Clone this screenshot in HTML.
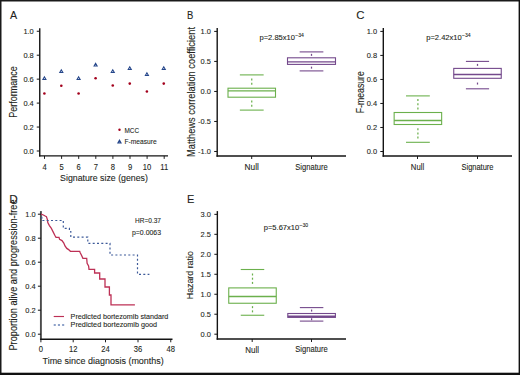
<!DOCTYPE html>
<html><head><meta charset="utf-8"><style>
html,body{margin:0;padding:0;background:#fff;}
svg{display:block;font-family:"Liberation Sans", sans-serif;}
</style></head><body>
<svg width="520" height="375" viewBox="0 0 520 375">
<rect x="0" y="0" width="520" height="375" fill="#fff"/>
<text x="10.0" y="19" font-size="11" text-anchor="start" textLength="7.15" lengthAdjust="spacingAndGlyphs" fill="#231f20" stroke="#231f20" stroke-width="0.1" >A</text>
<line x1="39.75" y1="28.3" x2="39.75" y2="156.6" stroke="#141414" stroke-width="1.4" />
<line x1="39.05" y1="155.9" x2="168" y2="155.9" stroke="#141414" stroke-width="1.4" />
<line x1="36.75" y1="31.25" x2="39.75" y2="31.25" stroke="#141414" stroke-width="1.0" />
<text x="33.75" y="34.0" font-size="8.0" text-anchor="end" textLength="10.34" lengthAdjust="spacingAndGlyphs" fill="#231f20" stroke="#231f20" stroke-width="0.1" >1.0</text>
<line x1="36.75" y1="55.2" x2="39.75" y2="55.2" stroke="#141414" stroke-width="1.0" />
<text x="33.75" y="57.95" font-size="8.0" text-anchor="end" textLength="10.34" lengthAdjust="spacingAndGlyphs" fill="#231f20" stroke="#231f20" stroke-width="0.1" >0.8</text>
<line x1="36.75" y1="79.15" x2="39.75" y2="79.15" stroke="#141414" stroke-width="1.0" />
<text x="33.75" y="81.9" font-size="8.0" text-anchor="end" textLength="10.34" lengthAdjust="spacingAndGlyphs" fill="#231f20" stroke="#231f20" stroke-width="0.1" >0.6</text>
<line x1="36.75" y1="103.1" x2="39.75" y2="103.1" stroke="#141414" stroke-width="1.0" />
<text x="33.75" y="105.85" font-size="8.0" text-anchor="end" textLength="10.34" lengthAdjust="spacingAndGlyphs" fill="#231f20" stroke="#231f20" stroke-width="0.1" >0.4</text>
<line x1="36.75" y1="127.05" x2="39.75" y2="127.05" stroke="#141414" stroke-width="1.0" />
<text x="33.75" y="129.8" font-size="8.0" text-anchor="end" textLength="10.34" lengthAdjust="spacingAndGlyphs" fill="#231f20" stroke="#231f20" stroke-width="0.1" >0.2</text>
<line x1="36.75" y1="151.0" x2="39.75" y2="151.0" stroke="#141414" stroke-width="1.0" />
<text x="33.75" y="153.75" font-size="8.0" text-anchor="end" textLength="10.34" lengthAdjust="spacingAndGlyphs" fill="#231f20" stroke="#231f20" stroke-width="0.1" >0.0</text>
<line x1="44.5" y1="155.9" x2="44.5" y2="158.9" stroke="#141414" stroke-width="0.95" />
<text x="44.5" y="169.7" font-size="8.2" text-anchor="middle" textLength="4.24" lengthAdjust="spacingAndGlyphs" fill="#231f20" stroke="#231f20" stroke-width="0.1" >4</text>
<line x1="61.6" y1="155.9" x2="61.6" y2="158.9" stroke="#141414" stroke-width="0.95" />
<text x="61.6" y="169.7" font-size="8.2" text-anchor="middle" textLength="4.24" lengthAdjust="spacingAndGlyphs" fill="#231f20" stroke="#231f20" stroke-width="0.1" >5</text>
<line x1="78.7" y1="155.9" x2="78.7" y2="158.9" stroke="#141414" stroke-width="0.95" />
<text x="78.7" y="169.7" font-size="8.2" text-anchor="middle" textLength="4.24" lengthAdjust="spacingAndGlyphs" fill="#231f20" stroke="#231f20" stroke-width="0.1" >6</text>
<line x1="95.8" y1="155.9" x2="95.8" y2="158.9" stroke="#141414" stroke-width="0.95" />
<text x="95.8" y="169.7" font-size="8.2" text-anchor="middle" textLength="4.24" lengthAdjust="spacingAndGlyphs" fill="#231f20" stroke="#231f20" stroke-width="0.1" >7</text>
<line x1="112.9" y1="155.9" x2="112.9" y2="158.9" stroke="#141414" stroke-width="0.95" />
<text x="112.9" y="169.7" font-size="8.2" text-anchor="middle" textLength="4.24" lengthAdjust="spacingAndGlyphs" fill="#231f20" stroke="#231f20" stroke-width="0.1" >8</text>
<line x1="130.0" y1="155.9" x2="130.0" y2="158.9" stroke="#141414" stroke-width="0.95" />
<text x="130.0" y="169.7" font-size="8.2" text-anchor="middle" textLength="4.24" lengthAdjust="spacingAndGlyphs" fill="#231f20" stroke="#231f20" stroke-width="0.1" >9</text>
<line x1="147.1" y1="155.9" x2="147.1" y2="158.9" stroke="#141414" stroke-width="0.95" />
<text x="147.1" y="169.7" font-size="8.2" text-anchor="middle" textLength="8.48" lengthAdjust="spacingAndGlyphs" fill="#231f20" stroke="#231f20" stroke-width="0.1" >10</text>
<line x1="164.2" y1="155.9" x2="164.2" y2="158.9" stroke="#141414" stroke-width="0.95" />
<text x="164.2" y="169.7" font-size="8.2" text-anchor="middle" textLength="7.92" lengthAdjust="spacingAndGlyphs" fill="#231f20" stroke="#231f20" stroke-width="0.1" >11</text>
<text x="60.1" y="180.9" font-size="9.3" text-anchor="start" textLength="87.8" lengthAdjust="spacingAndGlyphs" fill="#231f20" stroke="#231f20" stroke-width="0.1" >Signature size (genes)</text>
<text x="0" y="0" font-size="10" text-anchor="middle" textLength="51.5" lengthAdjust="spacingAndGlyphs" fill="#231f20" stroke="#231f20" stroke-width="0.1" transform="translate(17.2,92.1) rotate(-90)">Performance</text>
<path d="M42.85,79.55 L44.4,76.85 L45.95,79.55 Z" fill="#dfe6f2" stroke="#25468a" stroke-width="1.05"/>
<path d="M59.75,72.55 L61.3,69.85 L62.85,72.55 Z" fill="#dfe6f2" stroke="#25468a" stroke-width="1.05"/>
<path d="M77.05,79.55 L78.6,76.85 L80.15,79.55 Z" fill="#dfe6f2" stroke="#25468a" stroke-width="1.05"/>
<path d="M94.05,66.05 L95.6,63.35 L97.15,66.05 Z" fill="#dfe6f2" stroke="#25468a" stroke-width="1.05"/>
<path d="M111.2,72.45 L112.75,69.75 L114.3,72.45 Z" fill="#dfe6f2" stroke="#25468a" stroke-width="1.05"/>
<path d="M128.2,69.55 L129.75,66.85 L131.3,69.55 Z" fill="#dfe6f2" stroke="#25468a" stroke-width="1.05"/>
<path d="M145.35,75.55 L146.9,72.85 L148.45,75.55 Z" fill="#dfe6f2" stroke="#25468a" stroke-width="1.05"/>
<path d="M162.2,69.55 L163.75,66.85 L165.3,69.55 Z" fill="#dfe6f2" stroke="#25468a" stroke-width="1.05"/>
<circle cx="44.4" cy="93.5" r="1.3" fill="#a3001c"/>
<circle cx="61.3" cy="85.7" r="1.3" fill="#a3001c"/>
<circle cx="78.6" cy="93.5" r="1.3" fill="#a3001c"/>
<circle cx="95.6" cy="78.2" r="1.3" fill="#a3001c"/>
<circle cx="112.75" cy="85.5" r="1.3" fill="#a3001c"/>
<circle cx="129.75" cy="83.6" r="1.3" fill="#a3001c"/>
<circle cx="146.9" cy="91.5" r="1.3" fill="#a3001c"/>
<circle cx="163.75" cy="83.6" r="1.3" fill="#a3001c"/>
<circle cx="119.5" cy="129.7" r="1.2" fill="#a3001c"/>
<text x="124.5" y="133.1" font-size="7.6" text-anchor="start" textLength="14.6" lengthAdjust="spacingAndGlyphs" fill="#231f20" stroke="#231f20" stroke-width="0.1" >MCC</text>
<path d="M117.95,142.85 L119.5,140.15 L121.05,142.85 Z" fill="#dfe6f2" stroke="#25468a" stroke-width="1.05"/>
<text x="124.5" y="144.1" font-size="7.6" text-anchor="start" textLength="32.2" lengthAdjust="spacingAndGlyphs" fill="#231f20" stroke="#231f20" stroke-width="0.1" >F-measure</text>
<text x="186.9" y="19" font-size="11" text-anchor="start" textLength="6.31" lengthAdjust="spacingAndGlyphs" fill="#231f20" stroke="#231f20" stroke-width="0.1" >B</text>
<line x1="217.2" y1="28.1" x2="217.2" y2="156.7" stroke="#141414" stroke-width="1.4" />
<line x1="216.5" y1="156" x2="346" y2="156" stroke="#141414" stroke-width="1.4" />
<line x1="214.2" y1="31.4" x2="217.2" y2="31.4" stroke="#141414" stroke-width="1.0" />
<text x="210.9" y="34.15" font-size="8.0" text-anchor="end" textLength="10.34" lengthAdjust="spacingAndGlyphs" fill="#231f20" stroke="#231f20" stroke-width="0.1" >1.0</text>
<line x1="214.2" y1="61.42" x2="217.2" y2="61.42" stroke="#141414" stroke-width="1.0" />
<text x="210.9" y="64.17" font-size="8.0" text-anchor="end" textLength="10.34" lengthAdjust="spacingAndGlyphs" fill="#231f20" stroke="#231f20" stroke-width="0.1" >0.5</text>
<line x1="214.2" y1="91.44" x2="217.2" y2="91.44" stroke="#141414" stroke-width="1.0" />
<text x="210.9" y="94.19" font-size="8.0" text-anchor="end" textLength="10.34" lengthAdjust="spacingAndGlyphs" fill="#231f20" stroke="#231f20" stroke-width="0.1" >0.0</text>
<line x1="214.2" y1="121.46" x2="217.2" y2="121.46" stroke="#141414" stroke-width="1.0" />
<text x="210.9" y="124.21" font-size="8.0" text-anchor="end" textLength="12.82" lengthAdjust="spacingAndGlyphs" fill="#231f20" stroke="#231f20" stroke-width="0.1" >-0.5</text>
<line x1="214.2" y1="151.48" x2="217.2" y2="151.48" stroke="#141414" stroke-width="1.0" />
<text x="210.9" y="154.23" font-size="8.0" text-anchor="end" textLength="12.82" lengthAdjust="spacingAndGlyphs" fill="#231f20" stroke="#231f20" stroke-width="0.1" >-1.0</text>
<line x1="251.7" y1="156" x2="251.7" y2="159.0" stroke="#141414" stroke-width="0.95" />
<text x="251.7" y="169.9" font-size="8.3" text-anchor="middle" textLength="14.3" lengthAdjust="spacingAndGlyphs" fill="#231f20" stroke="#231f20" stroke-width="0.1" >Null</text>
<line x1="311.5" y1="156" x2="311.5" y2="159.0" stroke="#141414" stroke-width="0.95" />
<text x="311.5" y="169.5" font-size="8.3" text-anchor="middle" textLength="32.4" lengthAdjust="spacingAndGlyphs" fill="#231f20" stroke="#231f20" stroke-width="0.1" >Signature</text>
<text x="0" y="0" font-size="10.3" text-anchor="middle" textLength="130" lengthAdjust="spacingAndGlyphs" fill="#231f20" stroke="#231f20" stroke-width="0.1" transform="translate(195.3,92.0) rotate(-90)">Matthews correlation coefficient</text>
<text x="259.5" y="40" font-size="7.5" text-anchor="start" textLength="35.5" lengthAdjust="spacingAndGlyphs" fill="#231f20" stroke="#231f20" stroke-width="0.1" >p=2.85x10</text>
<text x="295.3" y="37.1" font-size="5" text-anchor="start" textLength="8.6" lengthAdjust="spacingAndGlyphs" fill="#231f20" stroke="#231f20" stroke-width="0.1" >&#8722;34</text>
<line x1="251.75" y1="78.45" x2="251.75" y2="80.45" stroke="#6bb04c" stroke-width="1.25" />
<line x1="251.75" y1="82.65" x2="251.75" y2="84.65" stroke="#6bb04c" stroke-width="1.25" />
<line x1="251.75" y1="100.55" x2="251.75" y2="102.55" stroke="#6bb04c" stroke-width="1.25" />
<line x1="251.75" y1="104.75" x2="251.75" y2="106.75" stroke="#6bb04c" stroke-width="1.25" />
<line x1="239.85" y1="74.9" x2="263.65" y2="74.9" stroke="#6bb04c" stroke-width="1.1" />
<line x1="239.85" y1="110.1" x2="263.65" y2="110.1" stroke="#6bb04c" stroke-width="1.1" />
<rect x="228.0" y="88.2" width="47.5" height="9.0" fill="none" stroke="#6bb04c" stroke-width="1.1"/>
<line x1="228.0" y1="90.9" x2="275.5" y2="90.9" stroke="#6bb04c" stroke-width="1.4" />
<line x1="311.5" y1="53.85" x2="311.5" y2="55.85" stroke="#74498c" stroke-width="1.25" />
<line x1="311.5" y1="66.65" x2="311.5" y2="68.65" stroke="#74498c" stroke-width="1.25" />
<line x1="299.65" y1="51.9" x2="323.35" y2="51.9" stroke="#74498c" stroke-width="1.1" />
<line x1="299.65" y1="70.9" x2="323.35" y2="70.9" stroke="#74498c" stroke-width="1.1" />
<rect x="287.5" y="57.8" width="48" height="6.6" fill="none" stroke="#74498c" stroke-width="1.1"/>
<line x1="287.5" y1="61.9" x2="335.5" y2="61.9" stroke="#74498c" stroke-width="1.4" />
<text x="356.36" y="19" font-size="11" text-anchor="start" textLength="8.23" lengthAdjust="spacingAndGlyphs" fill="#231f20" stroke="#231f20" stroke-width="0.1" >C</text>
<line x1="383.3" y1="28.1" x2="383.3" y2="156.7" stroke="#141414" stroke-width="1.4" />
<line x1="382.6" y1="156" x2="512" y2="156" stroke="#141414" stroke-width="1.4" />
<line x1="380.3" y1="31.4" x2="383.3" y2="31.4" stroke="#141414" stroke-width="1.0" />
<text x="377.05" y="34.15" font-size="8.0" text-anchor="end" textLength="10.34" lengthAdjust="spacingAndGlyphs" fill="#231f20" stroke="#231f20" stroke-width="0.1" >1.0</text>
<line x1="380.3" y1="55.42" x2="383.3" y2="55.42" stroke="#141414" stroke-width="1.0" />
<text x="377.05" y="58.17" font-size="8.0" text-anchor="end" textLength="10.34" lengthAdjust="spacingAndGlyphs" fill="#231f20" stroke="#231f20" stroke-width="0.1" >0.8</text>
<line x1="380.3" y1="79.44" x2="383.3" y2="79.44" stroke="#141414" stroke-width="1.0" />
<text x="377.05" y="82.19" font-size="8.0" text-anchor="end" textLength="10.34" lengthAdjust="spacingAndGlyphs" fill="#231f20" stroke="#231f20" stroke-width="0.1" >0.6</text>
<line x1="380.3" y1="103.46" x2="383.3" y2="103.46" stroke="#141414" stroke-width="1.0" />
<text x="377.05" y="106.21" font-size="8.0" text-anchor="end" textLength="10.34" lengthAdjust="spacingAndGlyphs" fill="#231f20" stroke="#231f20" stroke-width="0.1" >0.4</text>
<line x1="380.3" y1="127.48" x2="383.3" y2="127.48" stroke="#141414" stroke-width="1.0" />
<text x="377.05" y="130.23" font-size="8.0" text-anchor="end" textLength="10.34" lengthAdjust="spacingAndGlyphs" fill="#231f20" stroke="#231f20" stroke-width="0.1" >0.2</text>
<line x1="380.3" y1="151.5" x2="383.3" y2="151.5" stroke="#141414" stroke-width="1.0" />
<text x="377.05" y="154.25" font-size="8.0" text-anchor="end" textLength="10.34" lengthAdjust="spacingAndGlyphs" fill="#231f20" stroke="#231f20" stroke-width="0.1" >0.0</text>
<line x1="417.5" y1="156" x2="417.5" y2="159.0" stroke="#141414" stroke-width="0.95" />
<text x="417.5" y="169.9" font-size="8.3" text-anchor="middle" textLength="13.3" lengthAdjust="spacingAndGlyphs" fill="#231f20" stroke="#231f20" stroke-width="0.1" >Null</text>
<line x1="477.5" y1="156" x2="477.5" y2="159.0" stroke="#141414" stroke-width="0.95" />
<text x="477.5" y="169.5" font-size="8.3" text-anchor="middle" textLength="32" lengthAdjust="spacingAndGlyphs" fill="#231f20" stroke="#231f20" stroke-width="0.1" >Signature</text>
<text x="0" y="0" font-size="10" text-anchor="middle" textLength="42" lengthAdjust="spacingAndGlyphs" fill="#231f20" stroke="#231f20" stroke-width="0.1" transform="translate(363.6,92.15) rotate(-90)">F-measure</text>
<text x="426.25" y="40" font-size="7.5" text-anchor="start" textLength="35.5" lengthAdjust="spacingAndGlyphs" fill="#231f20" stroke="#231f20" stroke-width="0.1" >p=2.42x10</text>
<text x="462.0" y="37.1" font-size="5" text-anchor="start" textLength="8.6" lengthAdjust="spacingAndGlyphs" fill="#231f20" stroke="#231f20" stroke-width="0.1" >&#8722;34</text>
<line x1="417.9" y1="99.0" x2="417.9" y2="101.0" stroke="#6bb04c" stroke-width="1.25" />
<line x1="417.9" y1="103.2" x2="417.9" y2="105.2" stroke="#6bb04c" stroke-width="1.25" />
<line x1="417.9" y1="107.4" x2="417.9" y2="109.4" stroke="#6bb04c" stroke-width="1.25" />
<line x1="417.9" y1="128.2" x2="417.9" y2="130.2" stroke="#6bb04c" stroke-width="1.25" />
<line x1="417.9" y1="132.4" x2="417.9" y2="134.4" stroke="#6bb04c" stroke-width="1.25" />
<line x1="417.9" y1="136.6" x2="417.9" y2="138.6" stroke="#6bb04c" stroke-width="1.25" />
<line x1="406.0" y1="95.9" x2="429.8" y2="95.9" stroke="#6bb04c" stroke-width="1.1" />
<line x1="406.0" y1="142.3" x2="429.8" y2="142.3" stroke="#6bb04c" stroke-width="1.1" />
<rect x="394.15" y="112.5" width="47.5" height="12.0" fill="none" stroke="#6bb04c" stroke-width="1.1"/>
<line x1="394.15" y1="120.5" x2="441.65" y2="120.5" stroke="#6bb04c" stroke-width="1.4" />
<line x1="477.5" y1="63.9" x2="477.5" y2="65.9" stroke="#74498c" stroke-width="1.25" />
<line x1="477.5" y1="82.55" x2="477.5" y2="84.55" stroke="#74498c" stroke-width="1.25" />
<line x1="465.9" y1="61.4" x2="489.1" y2="61.4" stroke="#74498c" stroke-width="1.1" />
<line x1="465.9" y1="88.8" x2="489.1" y2="88.8" stroke="#74498c" stroke-width="1.1" />
<rect x="453.75" y="68.4" width="47.5" height="9.9" fill="none" stroke="#74498c" stroke-width="1.1"/>
<line x1="453.75" y1="74.5" x2="501.25" y2="74.5" stroke="#74498c" stroke-width="1.4" />
<line x1="40.9" y1="211.1" x2="40.9" y2="340.0" stroke="#4a4a4a" stroke-width="1.9" />
<line x1="40.2" y1="339.3" x2="172.5" y2="339.3" stroke="#141414" stroke-width="1.4" />
<line x1="37.9" y1="214.2" x2="40.9" y2="214.2" stroke="#141414" stroke-width="1.0" />
<text x="35.7" y="216.95" font-size="8.0" text-anchor="end" textLength="10.34" lengthAdjust="spacingAndGlyphs" fill="#231f20" stroke="#231f20" stroke-width="0.1" >1.0</text>
<line x1="37.9" y1="238.2" x2="40.9" y2="238.2" stroke="#141414" stroke-width="1.0" />
<text x="35.7" y="240.95" font-size="8.0" text-anchor="end" textLength="10.34" lengthAdjust="spacingAndGlyphs" fill="#231f20" stroke="#231f20" stroke-width="0.1" >0.8</text>
<line x1="37.9" y1="262.2" x2="40.9" y2="262.2" stroke="#141414" stroke-width="1.0" />
<text x="35.7" y="264.95" font-size="8.0" text-anchor="end" textLength="10.34" lengthAdjust="spacingAndGlyphs" fill="#231f20" stroke="#231f20" stroke-width="0.1" >0.6</text>
<line x1="37.9" y1="286.2" x2="40.9" y2="286.2" stroke="#141414" stroke-width="1.0" />
<text x="35.7" y="288.95" font-size="8.0" text-anchor="end" textLength="10.34" lengthAdjust="spacingAndGlyphs" fill="#231f20" stroke="#231f20" stroke-width="0.1" >0.4</text>
<line x1="37.9" y1="310.2" x2="40.9" y2="310.2" stroke="#141414" stroke-width="1.0" />
<text x="35.7" y="312.95" font-size="8.0" text-anchor="end" textLength="10.34" lengthAdjust="spacingAndGlyphs" fill="#231f20" stroke="#231f20" stroke-width="0.1" >0.2</text>
<line x1="37.9" y1="334.2" x2="40.9" y2="334.2" stroke="#141414" stroke-width="1.0" />
<text x="35.7" y="336.95" font-size="8.0" text-anchor="end" textLength="10.34" lengthAdjust="spacingAndGlyphs" fill="#231f20" stroke="#231f20" stroke-width="0.1" >0.0</text>
<line x1="40.9" y1="339.3" x2="40.9" y2="342.3" stroke="#141414" stroke-width="0.95" />
<text x="40.9" y="352" font-size="8.2" text-anchor="middle" textLength="4.24" lengthAdjust="spacingAndGlyphs" fill="#231f20" stroke="#231f20" stroke-width="0.1" >0</text>
<line x1="73.2" y1="339.3" x2="73.2" y2="342.3" stroke="#141414" stroke-width="0.95" />
<text x="73.2" y="352" font-size="8.2" text-anchor="middle" textLength="8.48" lengthAdjust="spacingAndGlyphs" fill="#231f20" stroke="#231f20" stroke-width="0.1" >12</text>
<line x1="105.5" y1="339.3" x2="105.5" y2="342.3" stroke="#141414" stroke-width="0.95" />
<text x="105.5" y="352" font-size="8.2" text-anchor="middle" textLength="8.48" lengthAdjust="spacingAndGlyphs" fill="#231f20" stroke="#231f20" stroke-width="0.1" >24</text>
<line x1="138" y1="339.3" x2="138" y2="342.3" stroke="#141414" stroke-width="0.95" />
<text x="138" y="352" font-size="8.2" text-anchor="middle" textLength="8.48" lengthAdjust="spacingAndGlyphs" fill="#231f20" stroke="#231f20" stroke-width="0.1" >36</text>
<line x1="170.75" y1="339.3" x2="170.75" y2="342.3" stroke="#141414" stroke-width="0.95" />
<text x="170.75" y="352" font-size="8.2" text-anchor="middle" textLength="8.48" lengthAdjust="spacingAndGlyphs" fill="#231f20" stroke="#231f20" stroke-width="0.1" >48</text>
<text x="42.5" y="363.5" font-size="9.6" text-anchor="start" textLength="121.3" lengthAdjust="spacingAndGlyphs" fill="#231f20" stroke="#231f20" stroke-width="0.1" >Time since diagnosis (months)</text>
<text x="0" y="0" font-size="10" text-anchor="middle" textLength="151" lengthAdjust="spacingAndGlyphs" fill="#231f20" stroke="#231f20" stroke-width="0.1" transform="translate(16.9,275.0) rotate(-90)">Proportion alive and progression-free</text>
<text x="9.16" y="203" font-size="11" text-anchor="start" textLength="8.5" lengthAdjust="spacingAndGlyphs" fill="#231f20" stroke="#231f20" stroke-width="0.1" >D</text>
<text x="161" y="223.4" font-size="8" text-anchor="end" textLength="26" lengthAdjust="spacingAndGlyphs" fill="#231f20" stroke="#231f20" stroke-width="0.1" >HR=0.37</text>
<text x="161" y="234.8" font-size="8" text-anchor="end" textLength="29" lengthAdjust="spacingAndGlyphs" fill="#231f20" stroke="#231f20" stroke-width="0.1" >p=0.0063</text>
<path d="M41,214.2 L43.4,215 L45.2,216 L46.4,216.6 L47.4,219.6 L47.8,222.6 L49.4,225.6 L51.2,228 L53,231.6 L54.8,235.2 L56,237.4 L59,237.4 L59.6,239.4 L62,240.6 L63.8,243 L65,246 L66.8,248.4 L68.6,249.6 L70.4,251.3 L79.7,251.3 L80.1,252.5 L81.5,255.3 L82.9,258.3 L86.7,258.3 L87.1,263.2 L88.6,266 L89,269.3 L94.6,269.3 L94.6,273 L99.7,273 L99.7,279 L105,279 L105,287 L109.4,287 L109.4,295 L111,295 L111,304.8 L134.9,304.8" fill="none" stroke="#bd3055" stroke-width="1.3" stroke-linejoin="miter"/>
<path d="M41.8,216.8 V220.5 H63.3 V228.3 H69.4 V231.5 H70.8 V237.2 H87.8 V243.3 H110 V255 H137.5 V274.4 H149.4" fill="none" stroke="#3d5a99" stroke-width="1.2" stroke-dasharray="2,2.3"/>
<line x1="53.7" y1="316.5" x2="64" y2="316.5" stroke="#bd3055" stroke-width="1.15" />
<line x1="53.7" y1="324.9" x2="64.2" y2="324.9" stroke="#6a84b8" stroke-width="1.5" stroke-dasharray="2.1,2.1"/>
<text x="70.6" y="318.7" font-size="7.9" text-anchor="start" textLength="97.75" lengthAdjust="spacingAndGlyphs" fill="#231f20" stroke="#231f20" stroke-width="0.1" >Predicted bortezomib standard</text>
<text x="70.6" y="327.2" font-size="7.9" text-anchor="start" textLength="86.5" lengthAdjust="spacingAndGlyphs" fill="#231f20" stroke="#231f20" stroke-width="0.1" >Predicted bortezomib good</text>
<text x="187.05" y="203" font-size="11" text-anchor="start" textLength="7.35" lengthAdjust="spacingAndGlyphs" fill="#231f20" stroke="#231f20" stroke-width="0.1" >E</text>
<line x1="217.35" y1="211.1" x2="217.35" y2="339.7" stroke="#141414" stroke-width="1.4" />
<line x1="216.65" y1="339" x2="346" y2="339" stroke="#141414" stroke-width="1.4" />
<line x1="214.35" y1="214.35" x2="217.35" y2="214.35" stroke="#141414" stroke-width="1.0" />
<text x="210.85" y="217.1" font-size="8.0" text-anchor="end" textLength="10.34" lengthAdjust="spacingAndGlyphs" fill="#231f20" stroke="#231f20" stroke-width="0.1" >3.0</text>
<line x1="214.35" y1="234.32" x2="217.35" y2="234.32" stroke="#141414" stroke-width="1.0" />
<text x="210.85" y="237.07" font-size="8.0" text-anchor="end" textLength="10.34" lengthAdjust="spacingAndGlyphs" fill="#231f20" stroke="#231f20" stroke-width="0.1" >2.5</text>
<line x1="214.35" y1="254.3" x2="217.35" y2="254.3" stroke="#141414" stroke-width="1.0" />
<text x="210.85" y="257.05" font-size="8.0" text-anchor="end" textLength="10.34" lengthAdjust="spacingAndGlyphs" fill="#231f20" stroke="#231f20" stroke-width="0.1" >2.0</text>
<line x1="214.35" y1="274.27" x2="217.35" y2="274.27" stroke="#141414" stroke-width="1.0" />
<text x="210.85" y="277.02" font-size="8.0" text-anchor="end" textLength="10.34" lengthAdjust="spacingAndGlyphs" fill="#231f20" stroke="#231f20" stroke-width="0.1" >1.5</text>
<line x1="214.35" y1="294.25" x2="217.35" y2="294.25" stroke="#141414" stroke-width="1.0" />
<text x="210.85" y="297.0" font-size="8.0" text-anchor="end" textLength="10.34" lengthAdjust="spacingAndGlyphs" fill="#231f20" stroke="#231f20" stroke-width="0.1" >1.0</text>
<line x1="214.35" y1="314.23" x2="217.35" y2="314.23" stroke="#141414" stroke-width="1.0" />
<text x="210.85" y="316.98" font-size="8.0" text-anchor="end" textLength="10.34" lengthAdjust="spacingAndGlyphs" fill="#231f20" stroke="#231f20" stroke-width="0.1" >0.5</text>
<line x1="214.35" y1="334.2" x2="217.35" y2="334.2" stroke="#141414" stroke-width="1.0" />
<text x="210.85" y="336.95" font-size="8.0" text-anchor="end" textLength="10.34" lengthAdjust="spacingAndGlyphs" fill="#231f20" stroke="#231f20" stroke-width="0.1" >0.0</text>
<line x1="252.2" y1="339" x2="252.2" y2="342.0" stroke="#141414" stroke-width="0.95" />
<text x="252.2" y="352.9" font-size="8.3" text-anchor="middle" textLength="13.75" lengthAdjust="spacingAndGlyphs" fill="#231f20" stroke="#231f20" stroke-width="0.1" >Null</text>
<line x1="311.5" y1="339" x2="311.5" y2="342.0" stroke="#141414" stroke-width="0.95" />
<text x="311.5" y="352.0" font-size="8.3" text-anchor="middle" textLength="32.5" lengthAdjust="spacingAndGlyphs" fill="#231f20" stroke="#231f20" stroke-width="0.1" >Signature</text>
<text x="0" y="0" font-size="9.3" text-anchor="middle" textLength="48" lengthAdjust="spacingAndGlyphs" fill="#231f20" stroke="#231f20" stroke-width="0.1" transform="translate(192.6,275.2) rotate(-90)">Hazard ratio</text>
<text x="263.75" y="230" font-size="7.5" text-anchor="start" textLength="35.5" lengthAdjust="spacingAndGlyphs" fill="#231f20" stroke="#231f20" stroke-width="0.1" >p=5.67x10</text>
<text x="299.5" y="227.1" font-size="5" text-anchor="start" textLength="8.6" lengthAdjust="spacingAndGlyphs" fill="#231f20" stroke="#231f20" stroke-width="0.1" >&#8722;30</text>
<line x1="252.5" y1="273.5" x2="252.5" y2="275.5" stroke="#6bb04c" stroke-width="1.25" />
<line x1="252.5" y1="277.7" x2="252.5" y2="279.7" stroke="#6bb04c" stroke-width="1.25" />
<line x1="252.5" y1="281.9" x2="252.5" y2="283.9" stroke="#6bb04c" stroke-width="1.25" />
<line x1="252.5" y1="306.15" x2="252.5" y2="308.15" stroke="#6bb04c" stroke-width="1.25" />
<line x1="252.5" y1="310.35" x2="252.5" y2="312.35" stroke="#6bb04c" stroke-width="1.25" />
<line x1="240.75" y1="269.5" x2="264.25" y2="269.5" stroke="#6bb04c" stroke-width="1.1" />
<line x1="240.75" y1="315.25" x2="264.25" y2="315.25" stroke="#6bb04c" stroke-width="1.1" />
<rect x="228.75" y="287.9" width="47.5" height="15.35" fill="none" stroke="#6bb04c" stroke-width="1.1"/>
<line x1="228.75" y1="296.5" x2="276.25" y2="296.5" stroke="#6bb04c" stroke-width="1.4" />
<line x1="311.6" y1="309.55" x2="311.6" y2="311.55" stroke="#74498c" stroke-width="1.25" />
<line x1="311.6" y1="318.25" x2="311.6" y2="320.25" stroke="#74498c" stroke-width="1.25" />
<line x1="299.85" y1="307.6" x2="323.35" y2="307.6" stroke="#74498c" stroke-width="1.1" />
<line x1="299.85" y1="321.1" x2="323.35" y2="321.1" stroke="#74498c" stroke-width="1.1" />
<rect x="287.8" y="313.5" width="47.6" height="3.9" fill="none" stroke="#74498c" stroke-width="1.1"/>
<line x1="287.8" y1="316.3" x2="335.4" y2="316.3" stroke="#74498c" stroke-width="1.4" />
<rect x="0" y="0" width="520" height="1.5" fill="#1a1a1a"/>
<rect x="0" y="0" width="1.5" height="375" fill="#1a1a1a"/>
<rect x="518.6" y="0" width="1.4" height="375" fill="#111"/>
<rect x="0" y="372.7" width="520" height="2.3" fill="#111"/>
</svg>
</body></html>
